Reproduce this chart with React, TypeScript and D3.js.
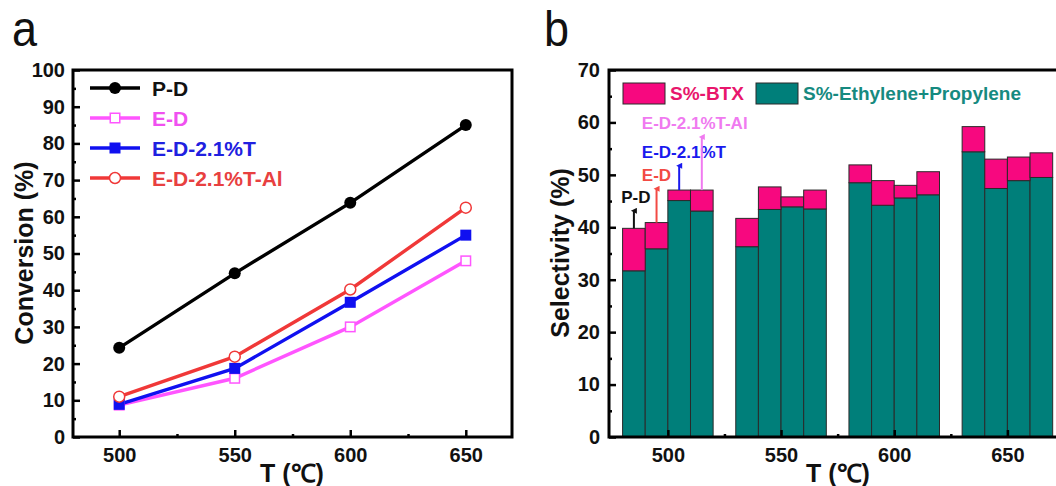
import React, { useEffect, useRef } from "react";
import * as d3 from "d3";

// temperatures (x axis of both panels)
const temps = [500, 550, 600, 650];

// panel a: conversion (%)
const convPD = [24.3, 44.6, 63.8, 85.0];
const convED = [8.7, 16.0, 30.0, 48.0];
const convEDT = [8.9, 18.7, 36.7, 55.0];
const convEDTAl = [11.0, 21.9, 40.2, 62.5];

// panel b: selectivity (%) per catalyst, ethylene+propylene and BTX on top
const catalysts = ["P-D", "E-D", "E-D-2.1%T", "E-D-2.1%T-Al"];
const olefinPD = [31.7, 36.3, 48.5, 54.4];
const olefinED = [35.9, 43.4, 44.2, 47.4];
const olefinEDT = [45.1, 43.9, 45.6, 48.9];
const olefinEDTAl = [43.1, 43.5, 46.2, 49.5];
const btxPD = [8.1, 5.4, 3.4, 4.8];
const btxED = [5.0, 4.3, 4.7, 5.6];
const btxEDT = [2.0, 1.9, 2.4, 4.5];
const btxEDTAl = [4.0, 3.6, 4.4, 4.7];

const yTicksA = [0, 10, 20, 30, 40, 50, 60, 70, 80, 90, 100];
const yTicksB = [0, 10, 20, 30, 40, 50, 60, 70];

const FONT = "Arial, 'Liberation Sans', sans-serif";
const TEAL = "#007f7a";
const PINK = "#f7087f";

export default function App() {
  const svgRef = useRef<SVGSVGElement>(null);

  useEffect(() => {
    const svg = d3.select(svgRef.current);
    svg.selectAll("*").remove();

    // shared helper: box frame + inward ticks
    const frame = (g: any, x: any, y: any, yTicks: number[], yMinor: number[], xMinor: number[], padL: number) => {
      const [l, r] = x.range();
      const [b, t] = y.range();

      const ax = g.append("g").attr("transform", `translate(0,${b})`)
        .call(d3.axisBottom(x).tickValues(temps).tickSize(-7).tickSizeOuter(0).tickPadding(11).tickFormat(d3.format("d")));
      g.append("g").attr("transform", `translate(0,${b})`)
        .call(d3.axisBottom(x).tickValues(xMinor).tickSize(-3).tickSizeOuter(0).tickFormat(() => ""));
      const ay = g.append("g").attr("transform", `translate(${l},0)`)
        .call(d3.axisLeft(y).tickValues(yTicks).tickSize(-7).tickSizeOuter(0).tickPadding(padL));
      g.append("g").attr("transform", `translate(${l},0)`)
        .call(d3.axisLeft(y).tickValues(yMinor).tickSize(-3).tickSizeOuter(0).tickFormat(() => ""));

      g.selectAll(".domain").remove();
      g.selectAll(".tick line").attr("stroke", "#000").attr("stroke-width", 2.5);
      [ax, ay].forEach((a: any) =>
        a.selectAll("text").attr("font-family", FONT).attr("font-size", 20)
          .attr("font-weight", "bold").attr("fill", "#111"));

      g.append("rect").attr("x", l).attr("y", t).attr("width", r - l).attr("height", b - t)
        .attr("fill", "none").attr("stroke", "#000").attr("stroke-width", 3);
    };

    const minor = (ticks: number[]) => ticks.slice(0, -1).map((d) => d + 5);

    // ---------- panel a ----------
    const ga = svg.append("g");
    const xa = d3.scaleLinear().domain([480, 670]).range([73, 512]);
    const ya = d3.scaleLinear().domain([0, 100]).range([437, 70]);

    const seriesA = [
      { name: "P-D", values: convPD, color: "#000000", text: "#111111", shape: "circle", fill: true },
      { name: "E-D", values: convED, color: "#ff55ff", text: "#f050f0", shape: "square", fill: false },
      { name: "E-D-2.1%T", values: convEDT, color: "#1010f0", text: "#2020e0", shape: "square", fill: true },
      { name: "E-D-2.1%T-Al", values: convEDTAl, color: "#f03838", text: "#e84040", shape: "circle", fill: false },
    ];

    const line = d3.line<number>().x((d, i) => xa(temps[i])).y((d) => ya(d));

    const marker = (g: any, cx: number, cy: number, s: any) => {
      if (s.shape === "circle") {
        g.append("circle").attr("cx", cx).attr("cy", cy).attr("r", s.fill ? 6 : 5.5)
          .attr("fill", s.fill ? s.color : "#fff").attr("stroke", s.color).attr("stroke-width", s.fill ? 0 : 1.5);
      } else {
        const w = s.fill ? 11 : 9.5;
        g.append("rect").attr("x", cx - w / 2).attr("y", cy - w / 2).attr("width", w).attr("height", w)
          .attr("fill", s.fill ? s.color : "#fff").attr("stroke", s.color).attr("stroke-width", s.fill ? 0 : 1.5);
      }
    };

    seriesA.forEach((s) => {
      ga.append("path").attr("d", line(s.values)).attr("fill", "none")
        .attr("stroke", s.color).attr("stroke-width", 3.4);
    });
    seriesA.forEach((s) => {
      s.values.forEach((v, i) => marker(ga, xa(temps[i]), ya(v), s));
    });

    frame(ga, xa, ya, yTicksA, minor(yTicksA), [525, 575, 625], 8);

    // legend a
    seriesA.forEach((s, i) => {
      const yy = 88 + i * 30;
      ga.append("line").attr("x1", 90).attr("x2", 140).attr("y1", yy).attr("y2", yy)
        .attr("stroke", s.color).attr("stroke-width", 3.4);
      marker(ga, 115, yy, s);
      ga.append("text").attr("x", 152).attr("y", yy).attr("dy", "0.36em")
        .attr("font-family", FONT).attr("font-size", 21).attr("font-weight", "bold")
        .attr("fill", s.text).text(s.name);
    });

    ga.append("text").attr("transform", `translate(24,253) rotate(-90)`)
      .attr("text-anchor", "middle").attr("dy", "0.36em")
      .attr("font-family", FONT).attr("font-size", 25).attr("font-weight", "bold")
      .attr("fill", "#111").text("Conversion (%)");
    ga.append("text").attr("x", 292).attr("y", 482).attr("text-anchor", "middle")
      .attr("font-family", FONT).attr("font-size", 25).attr("font-weight", "bold")
      .attr("fill", "#111").text("T (℃)");
    ga.append("text").attr("transform", "translate(12,46) scale(0.9,1)")
      .attr("font-family", FONT).attr("font-size", 50).attr("fill", "#111").text("a");

    // ---------- panel b ----------
    const gb = svg.append("g");
    const xb = d3.scaleLinear().domain([474, 675]).range([609, 1064]);
    const yb = d3.scaleLinear().domain([0, 70]).range([437, 70]);

    const olefin = [olefinPD, olefinED, olefinEDT, olefinEDTAl];
    const btx = [btxPD, btxED, btxEDT, btxEDTAl];
    const barW = 10;

    const bars: any[] = [];
    catalysts.forEach((c, ci) => {
      temps.forEach((t, ti) => {
        const x0 = t + (ci - 2) * barW;
        bars.push({ c, ci, x0, ole: olefin[ci][ti], btx: btx[ci][ti] });
      });
    });

    gb.selectAll("rect.ole").data(bars).enter().append("rect")
      .attr("x", (d: any) => xb(d.x0)).attr("width", xb(barW) - xb(0))
      .attr("y", (d: any) => yb(d.ole)).attr("height", (d: any) => yb(0) - yb(d.ole))
      .attr("fill", TEAL).attr("stroke", "#2a2a2a").attr("stroke-width", 1);
    gb.selectAll("rect.btx").data(bars).enter().append("rect")
      .attr("x", (d: any) => xb(d.x0)).attr("width", xb(barW) - xb(0))
      .attr("y", (d: any) => yb(d.ole + d.btx)).attr("height", (d: any) => yb(d.ole) - yb(d.ole + d.btx))
      .attr("fill", PINK).attr("stroke", "#2a2a2a").attr("stroke-width", 1);

    frame(gb, xb, yb, yTicksB, minor(yTicksB), [525, 575, 625], 9);

    // legend b
    const legB = [
      { label: "S%-BTX", fill: PINK, text: "#e8166c", x: 623 },
      { label: "S%-Ethylene+Propylene", fill: TEAL, text: "#168a80", x: 756 },
    ];
    legB.forEach((l) => {
      gb.append("rect").attr("x", l.x).attr("y", 83).attr("width", 42).attr("height", 21)
        .attr("fill", l.fill).attr("stroke", "#2a2a2a").attr("stroke-width", 1);
      gb.append("text").attr("x", l.x + 47).attr("y", 93.5).attr("dy", "0.36em")
        .attr("font-family", FONT).attr("font-size", 19).attr("font-weight", "bold")
        .attr("fill", l.text).text(l.label);
    });

    // arrows pointing out which bar is which catalyst (500 ℃ group)
    const annoColors = ["#111111", "#f24a44", "#1a1aee", "#f07af0"];
    const annoTip = [43.9, 48.1, 52.5, 58.0];
    const defs = svg.append("defs");
    annoColors.forEach((col, i) => {
      defs.append("marker").attr("id", `arr${i}`).attr("viewBox", "0 0 10 10")
        .attr("refX", 5).attr("refY", 5).attr("markerWidth", 6).attr("markerHeight", 8)
        .attr("markerUnits", "userSpaceOnUse").attr("orient", "auto")
        .append("path").attr("d", "M0,10 L5,0 L10,10 Z").attr("fill", col);
    });
    bars.filter((d: any) => d.x0 < 520).forEach((d: any) => {
      const i = d.ci;
      const cx = xb(d.x0 + barW / 2);
      const tip = yb(annoTip[i]);
      gb.append("line").attr("x1", cx).attr("x2", cx).attr("y1", yb(d.ole + d.btx)).attr("y2", tip + 4)
        .attr("stroke", annoColors[i]).attr("stroke-width", 2).attr("marker-end", `url(#arr${i})`);
      gb.append("text")
        .attr("x", i === 0 ? cx + 2 : xb(488.5)).attr("y", tip - 4)
        .attr("text-anchor", i === 0 ? "middle" : "start")
        .attr("font-family", FONT).attr("font-size", 17).attr("font-weight", "bold")
        .attr("fill", annoColors[i]).text(d.c);
    });

    gb.append("text").attr("transform", `translate(560,253) rotate(-90)`)
      .attr("text-anchor", "middle").attr("dy", "0.36em")
      .attr("font-family", FONT).attr("font-size", 25).attr("font-weight", "bold")
      .attr("fill", "#111").text("Selectivity (%)");
    gb.append("text").attr("x", 838).attr("y", 482).attr("text-anchor", "middle")
      .attr("font-family", FONT).attr("font-size", 25).attr("font-weight", "bold")
      .attr("fill", "#111").text("T (℃)");
    gb.append("text").attr("transform", "translate(544,46) scale(0.9,1)")
      .attr("font-family", FONT).attr("font-size", 50).attr("fill", "#111").text("b");
  }, []);

  return (
    <svg ref={svgRef} width={1056} height={486}
      style={{ position: "absolute", left: 0, top: 0, background: "#fff", display: "block" }} />
  );
}
